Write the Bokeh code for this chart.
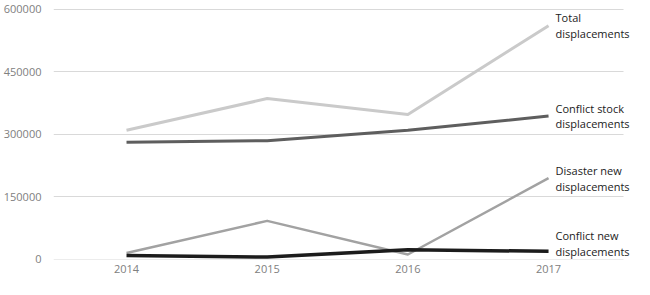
from bokeh.plotting import figure
from bokeh.models import ColumnDataSource, LabelSet, FixedTicker, Range1d, NumeralTickFormatter
from bokeh.core.properties import value
from bokeh.embed import file_html
from bokeh.resources import INLINE

years = [2014, 2015, 2016, 2017]
total = [309000, 385000, 347000, 560000]
conflict_stock = [280000, 284000, 309000, 343000]
disaster_new = [14500, 91500, 10800, 194000]
conflict_new = [8500, 4600, 22000, 18500]
series_names = ["Total\ndisplacements", "Conflict stock\ndisplacements",
                "Disaster new\ndisplacements", "Conflict new\ndisplacements"]
y_ticks = [0, 150000, 300000, 450000, 600000]

FONT = "Open Sans"

p = figure(width=634, height=279, output_backend="svg", toolbar_location=None,
           x_range=Range1d(2013.481, 2017.611), y_range=Range1d(-1200, 601200),
           min_border_left=53, min_border_right=0, min_border_top=8, min_border_bottom=20)
p.outline_line_color = None
p.background_fill_color = "white"
p.border_fill_color = "white"

p.xgrid.grid_line_color = None
p.ygrid.grid_line_color = "#d9d9d9"
p.ygrid.grid_line_width = 1
p.ygrid.ticker = FixedTicker(ticks=y_ticks)
p.ygrid.cross_bounds = (2013.481, 2017.533)

p.yaxis.ticker = FixedTicker(ticks=y_ticks)
p.yaxis.formatter = NumeralTickFormatter(format="0")
p.xaxis.ticker = FixedTicker(ticks=years)
for ax in (p.xaxis, p.yaxis):
    ax.axis_line_color = None
    ax.major_tick_line_color = None
    ax.minor_tick_line_color = None
    ax.major_tick_in = 0
    ax.major_tick_out = 0
    ax.major_label_text_color = "#808080"
    ax.major_label_text_font = FONT
    ax.major_label_text_font_size = "11px"
p.yaxis.major_label_standoff = 12
p.xaxis.major_label_standoff = 5

styles = [("#cacaca", 3), ("#5e5e5e", 3), ("#a2a2a2", 2.5), ("#1c1c1c", 3.5)]
series = [total, conflict_stock, disaster_new, conflict_new]
for vals, (col, w) in zip(series, styles):
    p.line(years, vals, line_color=col, line_width=w, line_join="round", line_cap="butt")

lab_src = ColumnDataSource(dict(
    x=[years[-1]] * 4,
    y=[s[-1] for s in series],
    text=series_names,
    yoff=[0, 0, 0, 8],
))
labels = LabelSet(x="x", y="y", text="text", source=lab_src, x_offset=7, y_offset="yoff",
                  text_font=value(FONT), text_font_size="11px", text_color="#222222",
                  text_baseline="middle", text_align="left", text_line_height=1.05,
                  level="overlay")
p.add_layout(labels)

open("out.html", "w").write(file_html(p, INLINE))
